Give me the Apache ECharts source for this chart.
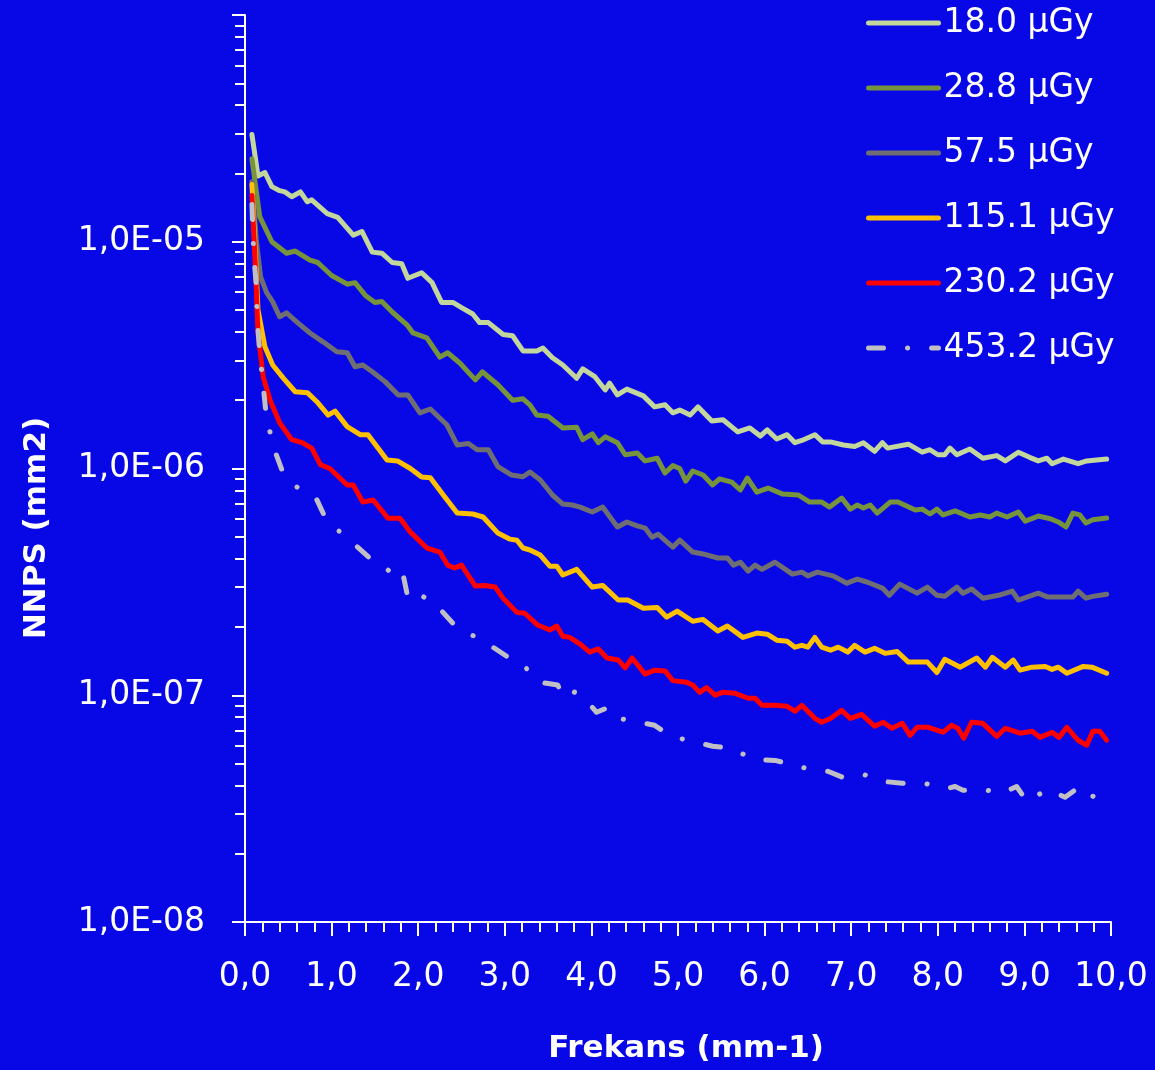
<!DOCTYPE html>
<html>
<head>
<meta charset="utf-8">
<script src="https://cdn.jsdelivr.net/npm/echarts@6/dist/echarts.min.js"></script>
<style>
  html, body { margin: 0; padding: 0; background: #0808e6; }
  #chart { width: 1155px; height: 1070px; }
</style>
</head>
<body>
<div id="chart"></div>
<script>
// NNPS values below are in units of 1e-7 mm2, paired with frequency (mm-1)
const NNPS_UNIT = 1e-7

const doseLabels = ['18.0 µGy', '28.8 µGy', '57.5 µGy', '115.1 µGy', '230.2 µGy', '453.2 µGy']

const nnps18 = [[0.08,297],[0.15,195],[0.23,202],[0.31,175],[0.40,168],[0.46,166],[0.54,158],[0.64,166],[0.72,150],[0.77,153],[0.95,133],[1.07,128],[1.25,107],[1.35,111],[1.47,90],[1.58,89],[1.70,81],[1.81,80],[1.88,69],[2.04,73],[2.16,66],[2.27,54],[2.40,54],[2.51,51],[2.63,48],[2.71,44],[2.81,44],[2.98,39],[3.09,38.5],[3.21,33],[3.37,33],[3.44,34],[3.55,30.8],[3.67,28.6],[3.83,25],[3.90,27.5],[4.04,25.4],[4.16,22.2],[4.21,23.8],[4.30,21.1],[4.41,22.4],[4.60,20.9],[4.73,18.7],[4.85,19.1],[4.94,17.6],[5.02,18.1],[5.14,17.2],[5.23,18.7],[5.39,16.2],[5.52,16.4],[5.69,14.5],[5.83,15.1],[5.95,13.9],[6.03,14.8],[6.14,13.5],[6.26,14.1],[6.35,13.0],[6.43,13.3],[6.58,14.1],[6.67,13.1],[6.76,13.1],[6.91,12.7],[7.04,12.5],[7.14,13.0],[7.27,11.9],[7.36,13.0],[7.42,12.3],[7.66,12.8],[7.82,11.8],[7.91,12.1],[8.00,11.5],[8.08,11.5],[8.14,12.3],[8.22,11.5],[8.37,12.2],[8.52,11.1],[8.68,11.4],[8.78,10.8],[8.93,11.8],[9.06,11.2],[9.16,10.8],[9.26,11.1],[9.32,10.5],[9.45,11.0],[9.62,10.5],[9.72,10.8],[9.95,11.0]]

const nnps28 = [[0.08,232],[0.17,129],[0.31,100],[0.48,89],[0.58,91],[0.75,83],[0.84,81],[1.00,71],[1.18,65],[1.27,66],[1.39,58],[1.50,54],[1.58,54.5],[1.70,49],[1.87,43],[1.94,39.6],[2.10,37.7],[2.25,31],[2.34,32.4],[2.48,29.2],[2.66,24.6],[2.74,26.7],[2.92,23.4],[3.09,20.0],[3.21,20.3],[3.29,19.1],[3.37,17.2],[3.50,17.0],[3.67,15.1],[3.83,15.2],[3.90,13.4],[4.01,14.2],[4.08,13.0],[4.16,13.8],[4.30,13.0],[4.39,11.5],[4.53,11.7],[4.62,10.8],[4.76,11.1],[4.85,9.55],[4.94,10.3],[5.02,10.0],[5.09,8.8],[5.17,9.75],[5.29,9.36],[5.40,8.46],[5.48,9.0],[5.62,8.71],[5.72,8.04],[5.80,9.08],[5.91,7.87],[6.04,8.2],[6.21,7.71],[6.39,7.64],[6.52,7.11],[6.66,7.11],[6.75,6.76],[6.89,7.41],[6.99,6.62],[7.07,6.90],[7.14,6.70],[7.22,6.90],[7.30,6.36],[7.45,7.11],[7.54,7.11],[7.74,6.56],[7.82,6.62],[7.91,6.30],[7.99,6.62],[8.06,6.24],[8.20,6.50],[8.37,6.11],[8.49,6.24],[8.60,6.11],[8.68,6.36],[8.80,6.11],[8.93,6.43],[9.01,5.86],[9.16,6.17],[9.30,6.00],[9.39,5.81],[9.48,5.52],[9.56,6.36],[9.64,6.24],[9.71,5.75],[9.79,5.94],[9.95,6.05]]

const nnps57 = [[0.08,184],[0.13,102],[0.18,70],[0.25,59.6],[0.32,54.3],[0.40,46.7],[0.48,48.6],[0.61,43.9],[0.75,39.6],[0.90,36.2],[1.06,32.7],[1.18,32.4],[1.27,28.1],[1.36,28.6],[1.47,26.7],[1.62,24.1],[1.77,21.1],[1.88,21.1],[2.02,17.6],[2.14,18.3],[2.33,15.6],[2.45,12.7],[2.58,12.9],[2.68,12.1],[2.81,12.1],[2.92,10.2],[3.08,9.36],[3.21,9.2],[3.29,9.65],[3.41,8.9],[3.55,7.64],[3.67,6.97],[3.78,6.90],[3.87,6.76],[4.01,6.43],[4.13,6.76],[4.30,5.52],[4.41,5.81],[4.53,5.58],[4.62,5.46],[4.70,4.98],[4.77,5.13],[4.94,4.50],[5.02,4.83],[5.17,4.28],[5.29,4.20],[5.46,4.03],[5.57,4.03],[5.64,3.75],[5.72,3.86],[5.81,3.53],[5.89,3.75],[5.97,3.59],[6.12,3.86],[6.32,3.42],[6.43,3.49],[6.50,3.36],[6.61,3.49],[6.79,3.36],[6.95,3.12],[7.07,3.25],[7.19,3.15],[7.36,2.97],[7.44,2.76],[7.56,3.09],[7.76,2.82],[7.88,3.00],[7.99,2.76],[8.08,2.73],[8.22,3.00],[8.29,2.82],[8.39,2.94],[8.52,2.68],[8.70,2.76],[8.86,2.88],[8.93,2.63],[9.16,2.82],[9.27,2.71],[9.56,2.71],[9.62,2.88],[9.71,2.68],[9.79,2.73],[9.95,2.79]]

const nnps115 = [[0.08,179],[0.12,87.6],[0.15,50.1],[0.20,39.6],[0.23,34.4],[0.32,28.6],[0.44,25.1],[0.58,21.8],[0.72,21.6],[0.83,19.7],[0.96,17.2],[1.04,17.9],[1.18,15.3],[1.33,14.1],[1.42,14.1],[1.64,10.9],[1.76,10.8],[1.91,10.0],[2.04,9.17],[2.14,9.1],[2.29,7.64],[2.45,6.36],[2.63,6.30],[2.75,6.11],[2.92,5.19],[3.06,4.88],[3.14,4.83],[3.21,4.46],[3.29,4.37],[3.41,4.15],[3.52,3.71],[3.60,3.71],[3.67,3.39],[3.83,3.59],[4.01,3.00],[4.13,3.05],[4.31,2.63],[4.42,2.63],[4.60,2.42],[4.76,2.44],[4.87,2.21],[4.99,2.35],[5.17,2.12],[5.29,2.16],[5.46,1.92],[5.57,2.02],[5.75,1.80],[5.91,1.88],[6.03,1.86],[6.14,1.75],[6.26,1.73],[6.35,1.63],[6.43,1.66],[6.50,1.63],[6.58,1.80],[6.66,1.63],[6.76,1.58],[6.85,1.63],[6.96,1.55],[7.04,1.66],[7.16,1.55],[7.27,1.61],[7.39,1.53],[7.53,1.56],[7.66,1.40],[7.88,1.40],[7.99,1.26],[8.08,1.44],[8.26,1.33],[8.45,1.46],[8.55,1.33],[8.63,1.47],[8.78,1.33],[8.87,1.43],[8.95,1.29],[9.09,1.33],[9.24,1.34],[9.32,1.30],[9.39,1.33],[9.49,1.25],[9.68,1.34],[9.78,1.33],[9.95,1.25]]

const nnps230 = [[0.08,160],[0.12,77.6],[0.15,39.6],[0.21,25.4],[0.29,20.0],[0.40,15.9],[0.54,13.4],[0.66,13.0],[0.77,12.3],[0.87,10.4],[0.98,10.0],[1.18,8.46],[1.25,8.46],[1.36,7.11],[1.48,7.26],[1.65,6.04],[1.79,6.04],[1.91,5.24],[2.10,4.46],[2.25,4.28],[2.34,3.75],[2.42,3.64],[2.50,3.75],[2.66,3.03],[2.77,3.05],[2.89,3.00],[2.98,2.68],[3.14,2.32],[3.23,2.30],[3.38,2.04],[3.52,1.94],[3.60,2.02],[3.67,1.82],[3.75,1.80],[3.87,1.68],[3.98,1.55],[4.08,1.60],[4.18,1.46],[4.31,1.43],[4.39,1.32],[4.47,1.46],[4.62,1.24],[4.73,1.29],[4.85,1.28],[4.94,1.16],[5.10,1.14],[5.17,1.11],[5.25,1.03],[5.33,1.08],[5.43,1.00],[5.51,1.03],[5.66,1.02],[5.81,0.97],[5.89,0.97],[5.97,0.903],[6.12,0.903],[6.26,0.894],[6.35,0.85],[6.43,0.903],[6.58,0.791],[6.66,0.76],[6.76,0.79],[6.89,0.858],[6.99,0.79],[7.12,0.824],[7.27,0.73],[7.37,0.76],[7.47,0.715],[7.59,0.752],[7.68,0.666],[7.76,0.722],[7.89,0.722],[8.06,0.687],[8.16,0.737],[8.23,0.715],[8.30,0.646],[8.39,0.76],[8.52,0.752],[8.68,0.659],[8.78,0.715],[8.95,0.68],[9.09,0.694],[9.18,0.652],[9.32,0.687],[9.40,0.652],[9.49,0.722],[9.62,0.633],[9.72,0.602],[9.79,0.694],[9.87,0.694],[9.95,0.633]]

const nnps453 = [[0.08,146],[0.10,89.4],[0.13,64],[0.14,45.7],[0.17,32.7],[0.21,23.1],[0.25,16.5],[0.35,11.8],[0.44,9.55],[0.60,8.28],[0.82,7.41],[0.94,5.92],[1.10,5.24],[1.30,4.50],[1.48,3.91],[1.67,3.53],[1.81,3.64],[1.87,2.82],[1.94,3.00],[2.00,2.82],[2.22,2.47],[2.40,2.08],[2.58,1.88],[2.81,1.68],[3.04,1.47],[3.21,1.36],[3.41,1.14],[3.61,1.11],[3.67,1.00],[3.73,1.06],[3.89,1.00],[4.06,0.841],[4.17,0.876],[4.24,0.80],[4.49,0.768],[4.73,0.737],[4.92,0.659],[5.16,0.627],[5.40,0.596],[5.62,0.583],[5.87,0.522],[6.12,0.516],[6.21,0.506],[6.32,0.491],[6.54,0.471],[6.73,0.462],[6.90,0.435],[7.14,0.448],[7.37,0.417],[7.59,0.409],[7.84,0.409],[8.11,0.388],[8.20,0.396],[8.29,0.381],[8.52,0.385],[8.74,0.369],[8.91,0.396],[9.03,0.340],[9.27,0.385],[9.47,0.355],[9.64,0.396],[9.84,0.347],[9.95,0.366]]

const seriesData = [nnps18, nnps28, nnps57, nnps115, nnps230, nnps453]
const seriesColors = ['#c3d69b', '#77933c', '#6f6f73', '#ffc000', '#ff0000', '#c0c0c4']

const FONT = 'DejaVu Sans'
const WHITE = '#ffffff'

// minor ticks of the log axis: 2..9 inside each decade
const minorLogTicks = []
for (let e = -8; e < -4; e++) {
  for (let m = 2; m <= 9; m++) {
    minorLogTicks.push(m * Math.pow(10, e))
  }
}

const formatPower = (value) => {
  const exp = Math.round(Math.log10(value))
  if (exp > -5) {
    return ''
  }
  return '1,0E-' + String(-exp).padStart(2, '0')
}

const chart = echarts.init(document.getElementById('chart'))

chart.setOption({
  backgroundColor: '#0808e6',
  animation: false,
  textStyle: { fontFamily: FONT },
  grid: {
    left: 245,
    right: 44,
    top: 15,
    bottom: 148
  },
  legend: {
    orient: 'vertical',
    left: 861,
    top: 0,
    itemWidth: 70,
    itemHeight: 14,
    itemGap: 29,
    itemStyle: { opacity: 0 },
    lineStyle: { width: 5, cap: 'round' },
    textStyle: {
      color: WHITE,
      fontSize: 33,
      lineHeight: 36,
      fontFamily: FONT
    },
    data: doseLabels
  },
  // y title sits below the plot's middle in the original, so it is placed by hand
  graphic: [{
    type: 'text',
    x: 37,
    y: 528,
    rotation: Math.PI / 2,
    style: {
      text: 'NNPS (mm2)',
      fill: WHITE,
      font: 'bold 31px "DejaVu Sans"',
      align: 'center',
      verticalAlign: 'middle'
    }
  }],
  xAxis: {
    type: 'value',
    min: 0,
    max: 10,
    interval: 1,
    name: 'Frekans (mm-1)',
    nameLocation: 'middle',
    nameGap: 111,
    nameTextStyle: {
      color: WHITE,
      fontSize: 31,
      fontWeight: 'bold',
      fontFamily: FONT,
      padding: [0, 0, 0, 16]
    },
    axisLine: { show: true, lineStyle: { color: WHITE, width: 2 } },
    axisTick: { show: true, length: 14, lineStyle: { color: WHITE, width: 2 } },
    minorTick: { show: true, splitNumber: 5, length: 10, lineStyle: { color: WHITE, width: 2 } },
    axisLabel: {
      color: WHITE,
      fontSize: 33,
      margin: 39,
      fontFamily: FONT,
      formatter: (v) => v.toFixed(1).replace('.', ',')
    },
    splitLine: { show: false }
  },
  yAxis: [
    {
      type: 'log',
      logBase: 10,
      min: 1e-8,
      max: 1e-4,
      position: 'left',
      axisLine: { show: true, lineStyle: { color: WHITE, width: 2 } },
      axisTick: { show: true, length: 13, lineStyle: { color: WHITE, width: 2 } },
      axisLabel: {
        color: WHITE,
        fontSize: 33,
        margin: 40,
        fontFamily: FONT,
        formatter: formatPower
      },
      splitLine: { show: false }
    },
    {
      type: 'log',
      logBase: 10,
      min: 1e-8,
      max: 1e-4,
      position: 'left',
      axisLine: { show: false },
      axisTick: {
        show: true,
        length: 10,
        customValues: minorLogTicks,
        lineStyle: { color: WHITE, width: 2 }
      },
      axisLabel: { show: false },
      splitLine: { show: false }
    }
  ],
  series: seriesData.map((points, i) => ({
    name: doseLabels[i],
    type: 'line',
    yAxisIndex: 0,
    symbol: 'none',
    smooth: false,
    data: points.map(([f, v]) => [f, v * NNPS_UNIT]),
    lineStyle: {
      color: seriesColors[i],
      width: 5,
      cap: 'round',
      join: 'round',
      type: i === 5 ? [15, 24, 0.1, 24] : 'solid'
    },
    itemStyle: { color: seriesColors[i] }
  }))
})
</script>
</body>
</html>
